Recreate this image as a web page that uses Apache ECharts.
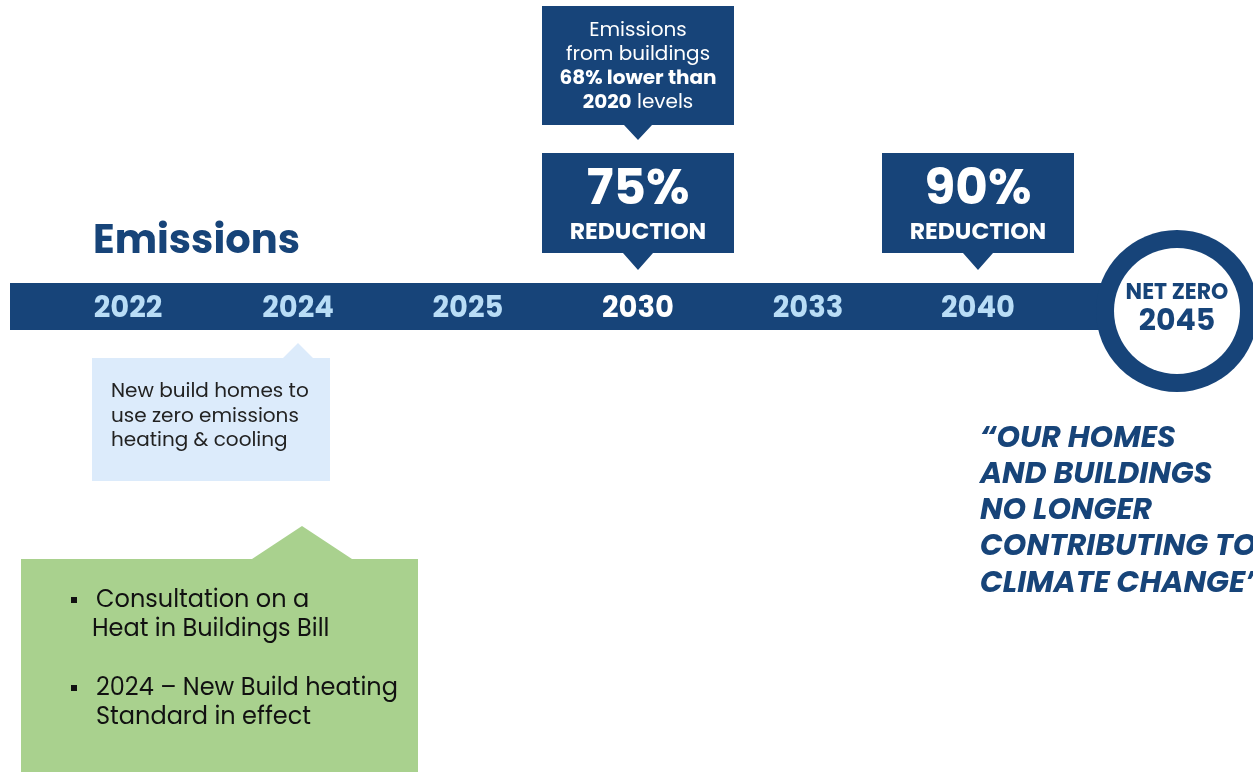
<!DOCTYPE html>
<html><head><meta charset="utf-8">
<script src="https://cdn.jsdelivr.net/npm/echarts@6/dist/echarts.min.js"></script>
<style>html,body{margin:0;padding:0;background:#fff}#c{width:1253px;height:772px}</style>
</head><body><div id="c"></div>
<script>
// ---- data ----
var years = ['2022', '2024', '2025', '2030', '2033', '2040'];
var highlightYear = '2030';
var reductionYears = ['2030', '2040'];
var reductionValues = ['75%', '90%'];
var reductionLabel = 'REDUCTION';
var topNoteYear = '2030';
var topNoteLines = ['Emissions', 'from buildings', '{b|68% lower than}', '{b|2020} levels'];
var blueNoteYear = '2024';
var blueNoteLines = ['New build homes to', 'use zero emissions', 'heating & cooling'];
var greenNoteYear = '2024';
var greenNoteItems = [['Consultation on a', 'Heat in Buildings Bill'], ['2024 \u2013 New Build heating', 'Standard in effect']];
var netZeroLabel = 'NET ZERO';
var netZeroYear = '2045';
var quoteLines = ['\u201cOUR HOMES', 'AND BUILDINGS', 'NO LONGER', 'CONTRIBUTING TO', 'CLIMATE CHANGE\u201d'];
var titleText = 'Emissions';

var NAVY = '#174479', LIGHT = '#b9ddf6', FONT = 'Poppins, Inter, "Open Sans", sans-serif';
var chart = echarts.init(document.getElementById('c'));

function xOf(api, idx) { return api.coord([idx, 0])[0]; }

chart.setOption({
  backgroundColor: '#fff',
  animation: false,
  title: { text: titleText, left: 88, top: 218, textStyle: { color: NAVY, fontSize: 40, fontWeight: 'bold', fontFamily: FONT } },
  grid: { left: 43, width: 1020, top: 0, height: 306 },
  xAxis: {
    type: 'category', data: years, boundaryGap: true,
    axisLine: { show: false }, axisTick: { show: false }, splitLine: { show: false },
    axisLabel: {
      interval: 0, hideOverlap: false,
      margin: 4, verticalAlign: 'middle', fontSize: 29, fontWeight: 'bold', fontFamily: FONT, color: LIGHT,
      formatter: function (v) { return v === highlightYear ? '{w|' + v + '}' : v; },
      rich: { w: { color: '#fff', fontSize: 29, fontWeight: 'bold', fontFamily: FONT } }
    },
    z: 10
  },
  yAxis: { type: 'value', min: 0, max: 1, show: false },
  graphic: [
    { type: 'rect', shape: { x: 10, y: 283, width: 1120, height: 47 }, style: { fill: NAVY }, z: 1 },
    { type: 'group', left: 980, top: 424, children: quoteLines.map(function (t, i) {
      return { type: 'text', x: 0, y: i * 36.3, style: { text: t, fill: NAVY, fontSize: 30, fontWeight: 'bold', fontStyle: 'italic', fontFamily: FONT } };
    }) }
  ],
  series: [
    { // reduction callouts
      type: 'custom', z: 5,
      data: reductionYears.map(function (y, i) { return [y, reductionValues[i]]; }),
      renderItem: function (params, api) {
        var cx = xOf(api, api.value(0));
        var v = reductionValues[params.dataIndex];
        return { type: 'group', children: [
          { type: 'polygon', shape: { points: [[cx - 96, 153], [cx + 96, 153], [cx + 96, 253], [cx + 15, 253], [cx, 270], [cx - 15, 253], [cx - 96, 253]] }, style: { fill: NAVY } },
          { type: 'text', style: { text: v, x: cx, y: 191, align: 'center', verticalAlign: 'middle', fill: '#fff', fontSize: 50, fontWeight: 'bold', fontFamily: FONT } },
          { type: 'text', style: { text: reductionLabel, x: cx, y: 233, align: 'center', verticalAlign: 'middle', fill: '#fff', fontSize: 23.5, fontWeight: 'bold', fontFamily: FONT } }
        ] };
      }
    },
    { // top note
      type: 'custom', z: 5, data: [[topNoteYear, 0]],
      renderItem: function (params, api) {
        var cx = xOf(api, api.value(0));
        var kids = [{ type: 'polygon', shape: { points: [[cx - 96, 6], [cx + 96, 6], [cx + 96, 125], [cx + 14, 125], [cx, 140], [cx - 14, 125], [cx - 96, 125]] }, style: { fill: NAVY } }];
        topNoteLines.forEach(function (t, i) {
          kids.push({ type: 'text', style: { text: t, x: cx, y: 31 + i * 24, align: 'center', verticalAlign: 'middle', fill: '#fff', fontSize: 20, fontFamily: FONT,
            rich: { b: { fontWeight: 'bold', fill: '#fff', fontSize: 20, fontFamily: FONT } } } });
        });
        return { type: 'group', children: kids };
      }
    },
    { // light blue note
      type: 'custom', z: 5, data: [[blueNoteYear, 0]],
      renderItem: function (params, api) {
        var cx = xOf(api, api.value(0));
        var kids = [{ type: 'polygon', shape: { points: [[92, 358], [cx - 15, 358], [cx, 343], [cx + 15, 358], [330, 358], [330, 481], [92, 481]] }, style: { fill: '#dcebfb' } }];
        blueNoteLines.forEach(function (t, i) {
          kids.push({ type: 'text', style: { text: t, x: 111, y: 392 + i * 24.5, verticalAlign: 'middle', fill: '#222', fontSize: 20, fontFamily: FONT } });
        });
        return { type: 'group', children: kids };
      }
    },
    { // green note
      type: 'custom', z: 5, data: [[greenNoteYear, 0]],
      renderItem: function (params, api) {
        var cx = xOf(api, api.value(0)) + 4;
        var kids = [{ type: 'polygon', shape: { points: [[21, 559], [cx - 50, 559], [cx, 526], [cx + 50, 559], [418, 559], [418, 772], [21, 772]] }, style: { fill: '#a9d18e' } }];
        var y0 = [601, 689];
        greenNoteItems.forEach(function (item, k) {
          kids.push({ type: 'rect', shape: { x: 71, y: y0[k] - 4, width: 6, height: 6 }, style: { fill: '#111' } });
          item.forEach(function (t, i) {
            kids.push({ type: 'text', style: { text: t, x: (k === 0 && i === 1) ? 92 : 96, y: y0[k] + i * 28.5, verticalAlign: 'middle', fill: '#111', fontSize: 24, fontFamily: FONT } });
          });
        });
        return { type: 'group', children: kids };
      }
    },
    { // net zero circle after last year
      type: 'custom', z: 6, data: [[years[years.length - 1], 0]],
      renderItem: function (params, api) {
        var p = api.coord([api.value(0), 0]);
        var cx = p[0] + 199, cy = p[1] + 5;
        return { type: 'group', children: [
          { type: 'circle', shape: { cx: cx, cy: cy, r: 81 }, style: { fill: NAVY } },
          { type: 'circle', shape: { cx: cx, cy: cy, r: 63 }, style: { fill: '#fff' } },
          { type: 'text', style: { text: netZeroLabel, x: cx, y: cy - 18, align: 'center', verticalAlign: 'middle', fill: NAVY, fontSize: 22, fontWeight: 'bold', fontFamily: FONT } },
          { type: 'text', style: { text: netZeroYear, x: cx, y: cy + 11, align: 'center', verticalAlign: 'middle', fill: NAVY, fontSize: 30, fontWeight: 'bold', fontFamily: FONT } }
        ] };
      }
    }
  ]
});
</script></body></html>
